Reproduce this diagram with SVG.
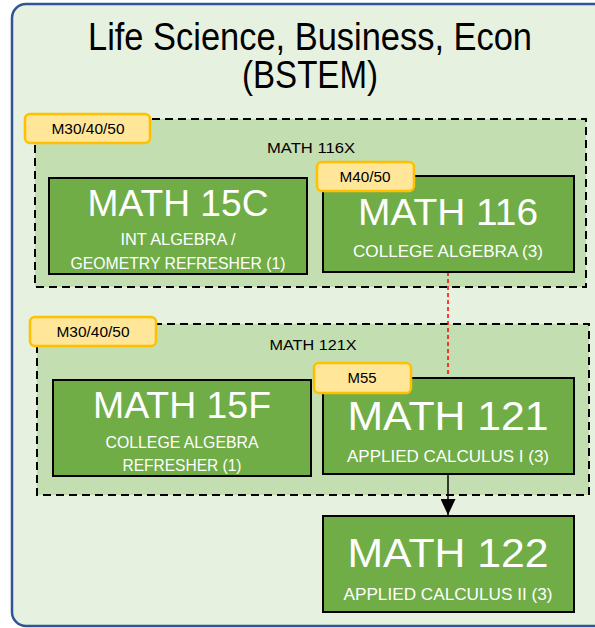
<svg xmlns="http://www.w3.org/2000/svg" width="595" height="628" viewBox="0 0 595 628">
<style>
  text { font-family: "Liberation Sans", Arial, sans-serif; }
  .outer { fill: #E6F1DF; stroke: #2F5597; stroke-width: 2.5; }
  .grp { fill: #C3DEB1; stroke: #000; stroke-width: 2; stroke-dasharray: 8 5; }
  .box { fill: #70AD47; stroke: #000; stroke-width: 2; }
  .badge { fill: #FFE699; stroke: #FFC000; stroke-width: 2.5; }
  .title { font-size: 38px; fill: #000; text-anchor: middle; }
  .big { fill: #fff; text-anchor: middle; }
  .sub { fill: #fff; font-size: 16.5px; text-anchor: middle; }
  .btxt { font-size: 14px; fill: #000; text-anchor: middle; }
  .glbl { font-size: 14px; fill: #000; text-anchor: middle; }
</style>
<defs>
  <marker id="arr" markerWidth="16" markerHeight="15" refX="16" refY="7.5" orient="auto" markerUnits="userSpaceOnUse" viewBox="0 0 16 15">
    <path d="M0,0 L16,7.5 L0,15 Z" fill="#000"/>
  </marker>
</defs>
<g id="container">
  <rect class="outer" x="12" y="4" width="600" height="622" rx="14"/>
  <text class="title" x="310" y="50" textLength="444" lengthAdjust="spacingAndGlyphs">Life Science, Business, Econ</text>
  <text class="title" x="310" y="88" textLength="136" lengthAdjust="spacingAndGlyphs">(BSTEM)</text>
</g>
<g id="group-116x">
  <rect class="grp" x="35" y="119" width="551" height="168"/>
  <text class="glbl" x="311" y="153" textLength="88" lengthAdjust="spacingAndGlyphs">MATH 116X</text>
  <rect class="badge" x="25" y="114" width="125" height="29" rx="5"/>
  <text class="btxt" x="88" y="134" textLength="73" lengthAdjust="spacingAndGlyphs">M30/40/50</text>
</g>
<g id="group-121x">
  <rect class="grp" x="37" y="324" width="552" height="171"/>
  <text class="glbl" x="313" y="350" textLength="87" lengthAdjust="spacingAndGlyphs">MATH 121X</text>
  <rect class="badge" x="30" y="317" width="126" height="29" rx="5"/>
  <text class="btxt" x="93" y="337" textLength="73" lengthAdjust="spacingAndGlyphs">M30/40/50</text>
</g>
<g id="connectors">
  <line x1="448" y1="272" x2="448" y2="378" stroke="#FF0000" stroke-width="1.5" stroke-dasharray="4 3"/>
  <line x1="448" y1="474" x2="448" y2="515" stroke="#000" stroke-width="1.5" marker-end="url(#arr)"/>
</g>
<g id="math15c">
  <rect class="box" x="49" y="178" width="258" height="96"/>
  <text class="big" x="178" y="216" font-size="37" textLength="181" lengthAdjust="spacingAndGlyphs">MATH 15C</text>
  <text class="sub" x="178" y="245" textLength="115" lengthAdjust="spacingAndGlyphs">INT ALGEBRA /</text>
  <text class="sub" x="178" y="269" textLength="215" lengthAdjust="spacingAndGlyphs">GEOMETRY REFRESHER (1)</text>
</g>
<g id="math116">
  <rect class="box" x="323" y="176" width="251" height="96"/>
  <text class="big" x="448" y="225" font-size="36" textLength="180" lengthAdjust="spacingAndGlyphs">MATH 116</text>
  <text class="sub" x="448" y="257" textLength="190" lengthAdjust="spacingAndGlyphs">COLLEGE ALGEBRA (3)</text>
  <rect class="badge" x="317" y="162" width="97" height="29" rx="5"/>
  <text class="btxt" x="365" y="182" textLength="51" lengthAdjust="spacingAndGlyphs">M40/50</text>
</g>
<g id="math15f">
  <rect class="box" x="53" y="380" width="258" height="96"/>
  <text class="big" x="182" y="418" font-size="37" textLength="178" lengthAdjust="spacingAndGlyphs">MATH 15F</text>
  <text class="sub" x="182" y="448" textLength="153" lengthAdjust="spacingAndGlyphs">COLLEGE ALGEBRA</text>
  <text class="sub" x="182" y="471" textLength="119" lengthAdjust="spacingAndGlyphs">REFRESHER (1)</text>
</g>
<g id="math121">
  <rect class="box" x="323" y="378" width="251" height="96"/>
  <text class="big" x="448" y="430" font-size="41" textLength="201" lengthAdjust="spacingAndGlyphs">MATH 121</text>
  <text class="sub" x="448" y="462" textLength="202" lengthAdjust="spacingAndGlyphs">APPLIED CALCULUS I (3)</text>
  <rect class="badge" x="314" y="363" width="97" height="30" rx="5"/>
  <text class="btxt" x="362" y="383" textLength="29" lengthAdjust="spacingAndGlyphs">M55</text>
</g>
<g id="math122">
  <rect class="box" x="323" y="516" width="251" height="96"/>
  <text class="big" x="448" y="567" font-size="41" textLength="201" lengthAdjust="spacingAndGlyphs">MATH 122</text>
  <text class="sub" x="448" y="600" textLength="209" lengthAdjust="spacingAndGlyphs">APPLIED CALCULUS II (3)</text>
</g>
</svg>
